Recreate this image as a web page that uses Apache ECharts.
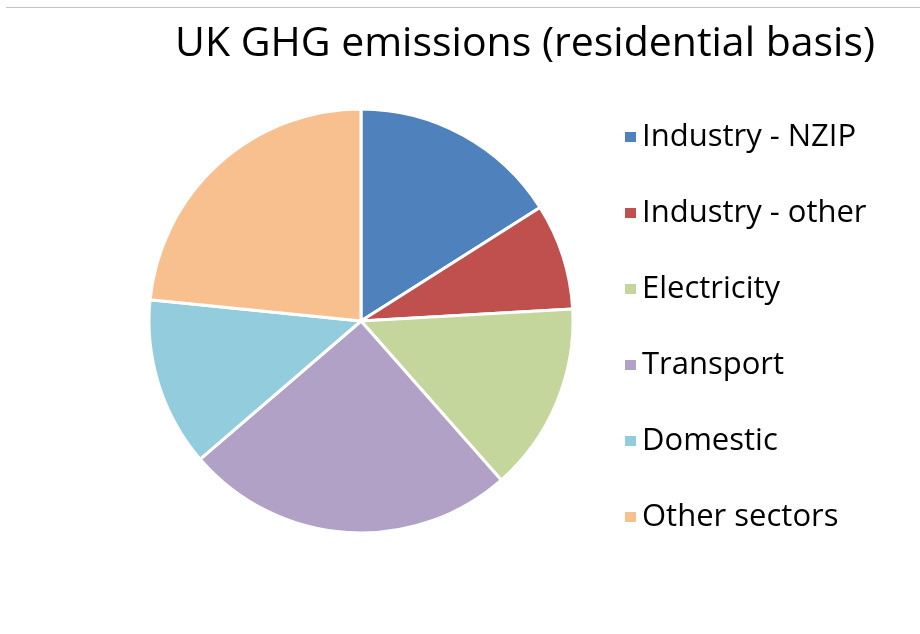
<!DOCTYPE html>
<html>
<head>
<meta charset="utf-8">
<script src="https://cdn.jsdelivr.net/npm/echarts@6/dist/echarts.min.js"></script>
<style>
  html, body { margin: 0; padding: 0; background: #ffffff; }
  #chart { width: 920px; height: 634px; }
</style>
</head>
<body>
<div id="chart"></div>
<script>
// Sector shares of UK greenhouse gas emissions (residential basis), %
const sectors = ['Industry - NZIP', 'Industry - other', 'Electricity', 'Transport', 'Domestic', 'Other sectors'];
const shares = [16.0, 8.1, 14.4, 25.2, 12.9, 23.4];
const sectorColors = ['#4F81BD', '#C0504D', '#C4D69B', '#B2A1C7', '#93CDDD', '#F9C08F'];

const chart = echarts.init(document.getElementById('chart'));
const FONT = '"Open Sans", "Noto Sans", sans-serif';

chart.setOption({
  backgroundColor: '#ffffff',
  animation: false,
  title: {
    text: 'UK GHG emissions (residential basis)',
    left: 170,
    top: 19,
    textStyle: { fontFamily: FONT, fontSize: 41, fontWeight: 'normal', color: '#000000' }
  },
  graphic: [{
    type: 'line',
    shape: { x1: 6, y1: 7.5, x2: 920, y2: 7.5 },
    style: { stroke: '#c4c4c4', lineWidth: 1 },
    silent: true
  }],
  legend: {
    orient: 'vertical',
    left: 618,
    top: 116,
    icon: 'rect',
    itemWidth: 13,
    itemHeight: 12,
    itemGap: 44,
    data: sectors,
    textStyle: {
      fontFamily: FONT,
      fontSize: 31,
      color: '#000000',
      lineHeight: 32,
      padding: [0, 0, 0, 0]
    }
  },
  series: [{
    type: 'pie',
    center: [361, 321],
    radius: 212,
    startAngle: 90,
    clockwise: true,
    label: { show: false },
    labelLine: { show: false },
    itemStyle: { borderColor: '#ffffff', borderWidth: 3 },
    emphasis: { disabled: true },
    data: sectors.map((name, i) => ({
      name: name,
      value: shares[i],
      itemStyle: { color: sectorColors[i] }
    }))
  }]
});
</script>
</body>
</html>
